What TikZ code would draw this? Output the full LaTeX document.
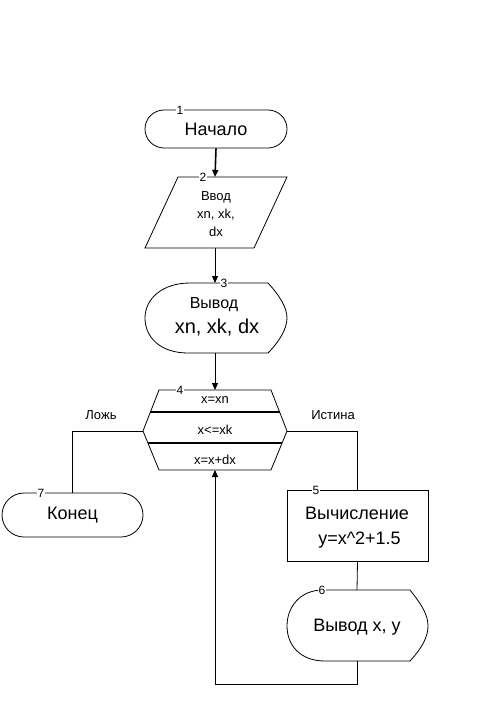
\documentclass[tikz,border=0pt]{standalone}
\usepackage{fontspec}
\setmainfont{Liberation Sans}
\usetikzlibrary{shapes.misc,arrows.meta}
\begin{document}
\begin{tikzpicture}[x=1pt,y=-1pt,
  shp/.style={draw,line width=0.8pt},
  term/.style={draw,line width=0.8pt,rounded rectangle,inner sep=0pt},
  num/.style={fill=white,inner sep=0.8pt,font=\fontsize{12}{12}\selectfont},
  txt/.style={inner sep=0pt,align=center},
  conn/.style={line width=0.8pt},
  arr/.style={line width=0.8pt,-{Triangle[length=7pt,width=6pt]}},
  sep/.style={line width=1.8pt}]
\useasboundingbox (0,0) rectangle (489,714);
% 1 start
\node[term,minimum width=142pt,minimum height=38pt,font=\fontsize{18}{20}\selectfont] (start) at (216,129) {Начало};
\node[num] (l1) at (180,110) {1};
% 2 input
\draw[shp] (178,177) -- (287,177) -- (254,248) -- (145,248) -- cycle;
\coordinate (inT) at (215,177);
\coordinate (inB) at (215,248);
\node[txt,font=\fontsize{13}{18}\selectfont] (input) at (216,214) {Ввод\\xn, xk,\\dx};
\node[num] (l2) at (203,177) {2};
% 3 display
\draw[shp] (190,283) -- (268,283) .. controls (280,296) and (287,308) .. (287,318)
  .. controls (287,328) and (280,341) .. (268,353) -- (188,353)
  .. controls (160,353) and (145,337) .. (145,318)
  .. controls (145,299) and (162,283) .. (190,283);
\coordinate (d3T) at (215,283);
\coordinate (d3B) at (215,353);
\node[txt,font=\fontsize{16}{18}\selectfont] (d3a) at (214,305) {Вывод};
\node[txt,font=\fontsize{20}{22}\selectfont] (d3b) at (217,328) {xn, xk, dx};
\node[num] (l3) at (224,283) {3};
% 4 loop
\draw[shp] (159,390) -- (271,390) -- (287,431) -- (271,470) -- (159,470) -- (143,431) -- cycle;
\draw[sep] (150.4,412) -- (279.6,412);
\draw[sep] (147.9,443) -- (282.1,443);
\coordinate (lpT) at (215,390);
\coordinate (lpB) at (215,470);
\coordinate (lpL) at (143,431);
\coordinate (lpR) at (287,431);
\node[txt,font=\fontsize{13}{14}\selectfont] (c1) at (215,400) {x=xn};
\node[txt,font=\fontsize{13}{14}\selectfont] (c2) at (215,430) {x<=xk};
\node[txt,font=\fontsize{13}{14}\selectfont] (c3) at (215,460) {x=x+dx};
\node[num] (l4) at (180,390) {4};
\node[txt,font=\fontsize{13}{14}\selectfont] (no) at (101,415) {Ложь};
\node[txt,font=\fontsize{13}{14}\selectfont] (yes) at (333,415) {Истина};
% 5 process
\node[draw,line width=0.8pt,minimum width=141pt,minimum height=71pt,inner sep=0pt] (proc) at (357.5,525.5) {};
\node[txt,font=\fontsize{18}{25}\selectfont] (ptxt) at (357,528) {Вычисление\\\ y=x\^{}2+1.5};
\node[num] (l5) at (316,490) {5};
% 6 display
\draw[shp] (323,590) -- (410,590) .. controls (422,605) and (428,615) .. (428,626)
  .. controls (428,637) and (422,648) .. (410,661) -- (325,661)
  .. controls (300,661) and (287,645) .. (287,626)
  .. controls (287,607) and (300,590) .. (323,590);
\coordinate (d6T) at (357,590);
\coordinate (d6B) at (357,661);
\node[txt,font=\fontsize{18}{20}\selectfont] (d6) at (357,627) {Вывод x, y};
\node[num] (l6) at (322,590) {6};
% 7 end
\node[term,minimum width=141pt,minimum height=44pt,font=\fontsize{18}{20}\selectfont] (fin) at (72.5,515) {Конец};
\node[num] (l7) at (41,493) {7};
% connectors
\draw[arr,line width=1.6pt] (start.south) -- (inT);
\draw[arr] (inB) -- (d3T);
\draw[arr] (d3B) -- (lpT);
\draw[conn] (lpL) -| (fin.north);
\draw[conn] (lpR) -| (proc.north);
\draw[conn] (proc.south) -- (d6T);
\coordinate (bk1) at (357,684);
\coordinate (bk2) at (215,684);
\draw[arr] (d6B) -- (bk1) -- (bk2) -- (lpB);
\end{tikzpicture}
\end{document}
